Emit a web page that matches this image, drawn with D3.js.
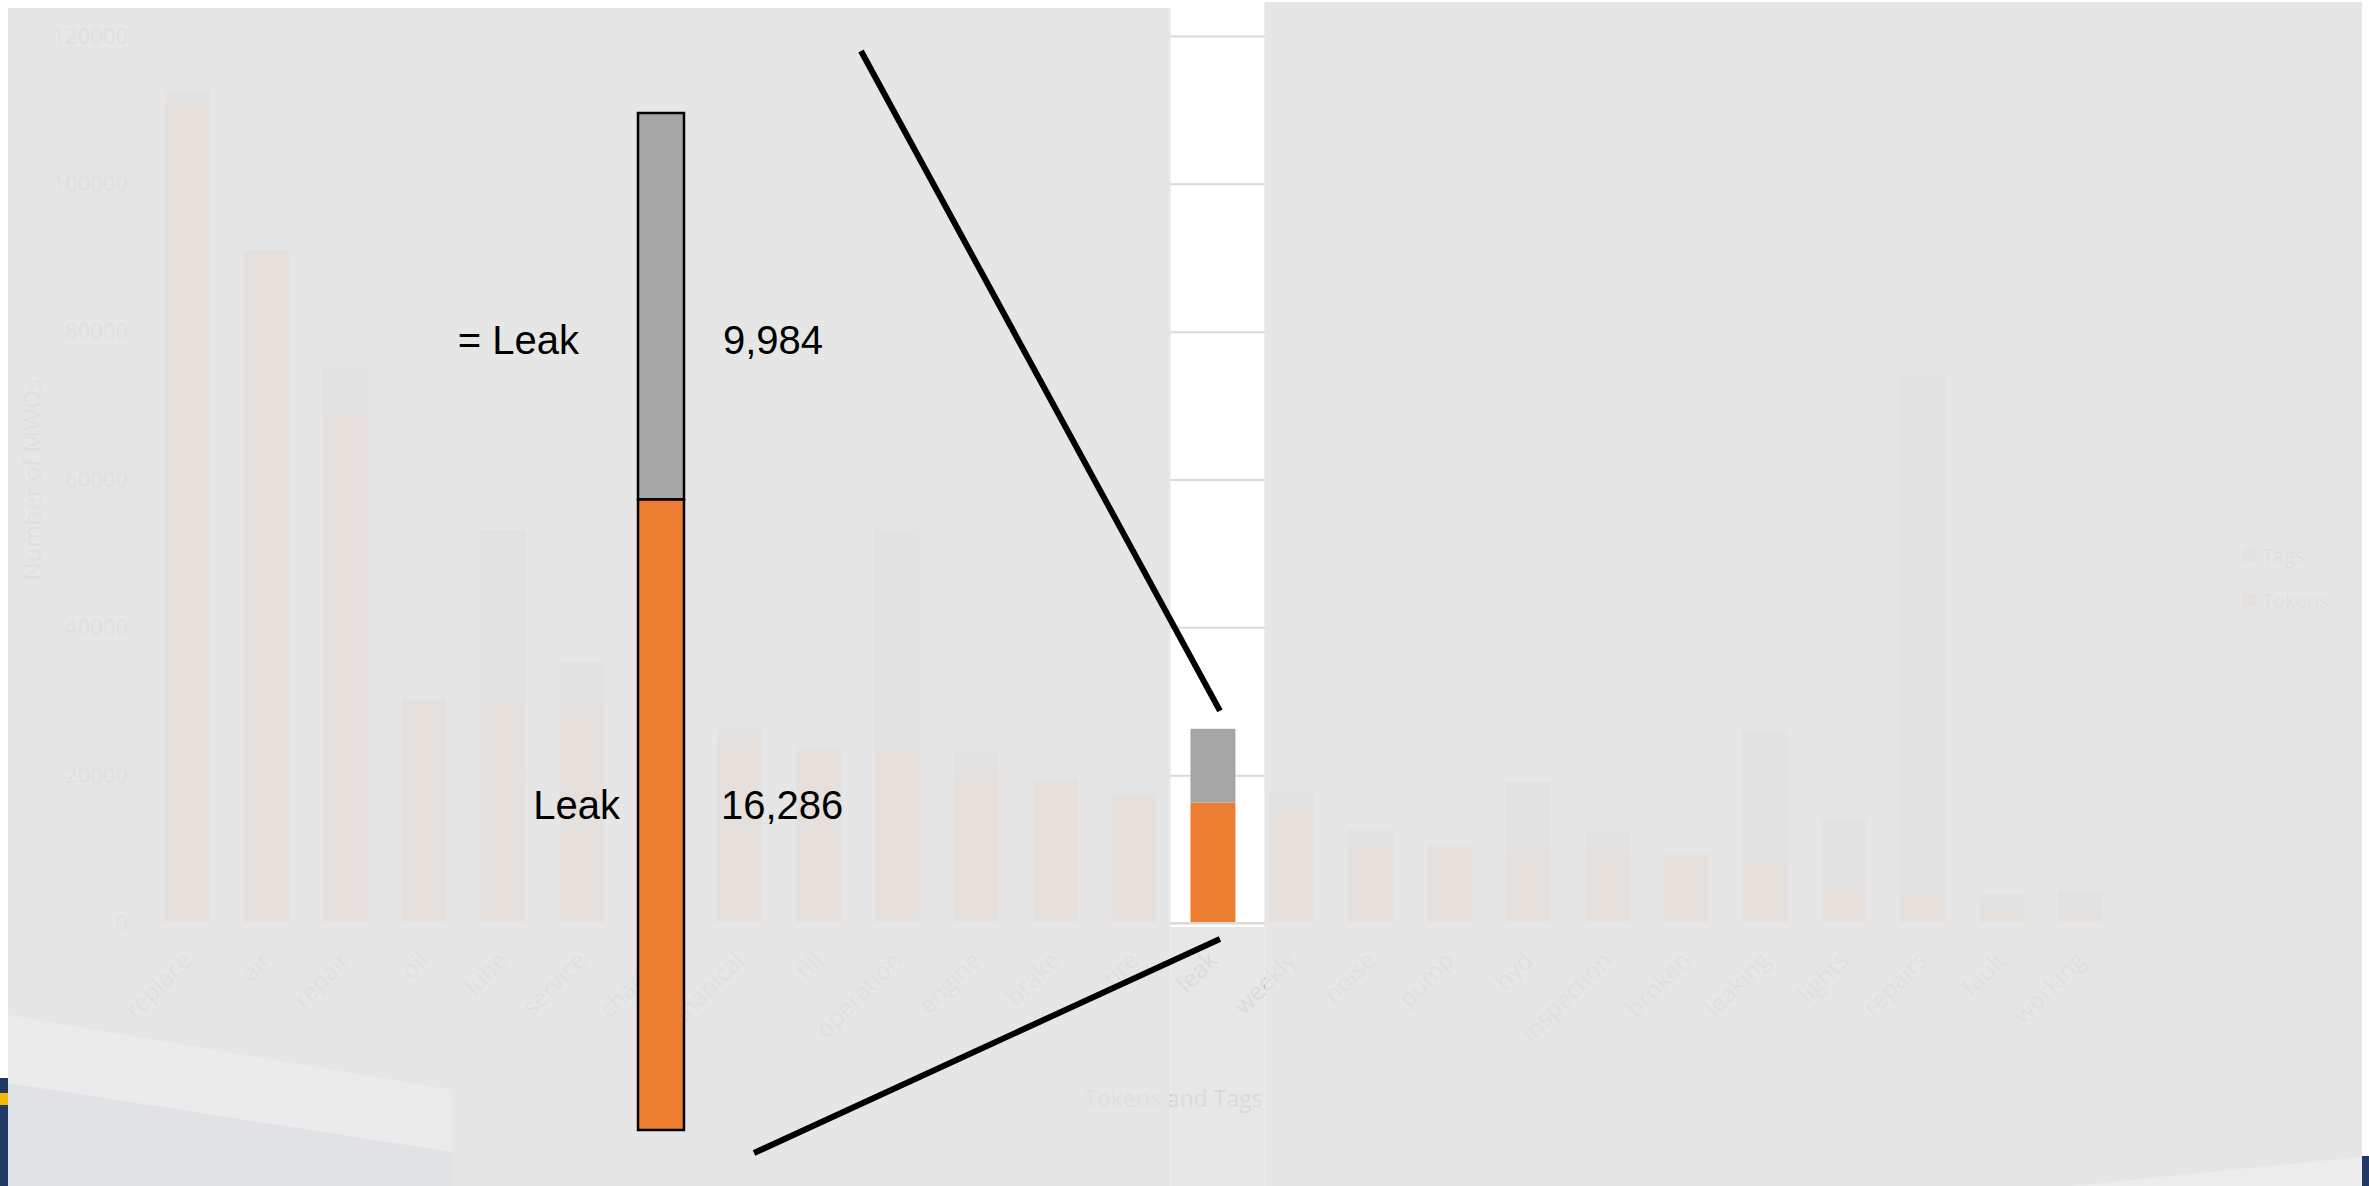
<!DOCTYPE html>
<html>
<head>
<meta charset="utf-8">
<script src="https://cdn.jsdelivr.net/npm/d3@7"></script>
<style>
  body { margin: 0; background: #fff; overflow: hidden; }
</style>
</head>
<body>
<div id="chart"></div>
<script>
// data
const categories = ["replace", "air", "repair", "oil", "lube", "service", "change", "mechanical",
  "fill", "operation", "engine", "brake", "tire", "leak", "weekly", "noise", "pump", "hyd",
  "inspection", "broken", "leaking", "lights", "repairs", "fault", "working", ""];
const tokens = [110900, 90900, 69100, 30200, 29900, 29600, 27000, 25200, 23500, 23700, 20600,
  19000, 17300, 16286, 15500, 10400, 10300, 9750, 9600, 9100, 8100, 4800, 3700, 2100, 1300, 0];
const tags = [1900, 200, 6000, 100, 23300, 5700, 1000, 1200, 500, 29600, 2500,
  600, 300, 9984, 2300, 2300, 300, 9350, 2800, 300, 18100, 9200, 70300, 1800, 3100, 0];
const yTicks = [0, 20000, 40000, 60000, 80000, 100000, 120000];
const seriesNames = ["Tags", "Tokens"];
const focus = "leak";
const focusLabels = ["= Leak", "Leak"];

const W = 2369, H = 1186;
const grey = "#a5a5a5", orange = "#ed7d31";

const svg = d3.select("#chart").append("svg")
  .attr("width", W).attr("height", H);

svg.append("rect").attr("width", W).attr("height", H).attr("fill", "#fff");

const plot = { left: 148, right: 2199, top: 36, bottom: 923 };

var x = d3.scaleBand()
  .domain(categories)
  .range([plot.left, plot.right])
  .paddingInner(0.43)
  .paddingOuter(0.215);

var y = d3.scaleLinear()
  .domain([0, 120000])
  .range([plot.bottom, plot.top]);

const chart = svg.append("g");

// gridlines + y labels
chart.append("g")
  .attr("transform", "translate(" + plot.left + ",0)")
  .call(d3.axisLeft(y).tickValues(yTicks).tickFormat(d3.format("d"))
    .tickSize(-(plot.right - plot.left)).tickPadding(20))
  .call(g => g.select(".domain").remove())
  .call(g => g.selectAll("line").attr("stroke", "#d9d9d9").attr("stroke-width", 2))
  .call(g => g.selectAll("text")
    .attr("fill", "#595959")
    .style("font-family", "'Open Sans', sans-serif")
    .style("font-size", "22px"));

// stacked bars
const rows = categories.map((c, i) => ({ cat: c, Tokens: tokens[i], Tags: tags[i] }));
const stack = d3.stack().keys(["Tokens", "Tags"])(rows);
const colors = { Tokens: orange, Tags: grey };

chart.selectAll("g.series")
  .data(stack)
  .join("g")
  .attr("class", "series")
  .attr("fill", d => colors[d.key])
  .selectAll("rect")
  .data(d => d)
  .join("rect")
  .attr("x", d => x(d.data.cat))
  .attr("width", x.bandwidth())
  .attr("y", d => y(d[1]))
  .attr("height", d => y(d[0]) - y(d[1]));

// x axis
const xAxis = chart.append("g")
  .attr("transform", "translate(0," + plot.bottom + ")")
  .call(d3.axisBottom(x).tickSize(0).tickPadding(0));
xAxis.select(".domain").attr("stroke", "#d9d9d9").attr("stroke-width", 2)
  .attr("d", "M" + plot.left + ",0H" + plot.right);
xAxis.selectAll("text")
  .attr("fill", "#595959")
  .attr("text-anchor", "end")
  .attr("dy", 0)
  .attr("transform", "translate(6,39) rotate(-45)")
  .style("font-family", "'Open Sans', sans-serif")
  .style("font-size", "24px");

// axis titles
chart.append("text")
  .attr("transform", "translate(41," + (plot.top + plot.bottom) / 2 + ") rotate(-90)")
  .attr("text-anchor", "middle")
  .attr("fill", "#595959")
  .style("font-family", "'Open Sans', sans-serif")
  .style("font-size", "24px")
  .text("Number of MWOs");

chart.append("text")
  .attr("x", (plot.left + plot.right) / 2)
  .attr("y", 1107)
  .attr("text-anchor", "middle")
  .attr("fill", "#595959")
  .style("font-family", "'Open Sans', sans-serif")
  .style("font-size", "23px")
  .text("Tokens and Tags");

// legend
const legend = chart.append("g").attr("transform", "translate(2242,548)");
seriesNames.forEach((s, i) => {
  legend.append("rect").attr("x", 0).attr("y", i * 45).attr("width", 14).attr("height", 14)
    .attr("fill", colors[s]);
  legend.append("text").attr("x", 20).attr("y", i * 45 + 15)
    .attr("fill", "#595959")
    .style("font-family", "'Open Sans', sans-serif")
    .style("font-size", "20px")
    .text(s);
});

// fade everything except the focus column
const hx0 = x(focus) - 20, hx1 = x(focus) + x.bandwidth() + 29;
const veil = svg.append("g").attr("fill", "#e5e5e5");
veil.append("rect").attr("x", 8).attr("y", 8).attr("width", hx0 - 8).attr("height", H - 8)
  .attr("opacity", 0.955);
veil.append("rect").attr("x", hx1).attr("y", 2).attr("width", 2362 - hx1).attr("height", H - 2)
  .attr("opacity", 0.955);
veil.append("rect").attr("x", hx0).attr("y", plot.bottom + 4).attr("width", hx1 - hx0)
  .attr("height", H - plot.bottom - 4).attr("opacity", 0.92);

// slide background bits at bottom-left / bottom-right
svg.append("path").attr("d", "M8,1015L452,1090L452,1186L8,1186Z").attr("fill", "#ebebeb");
svg.append("path").attr("d", "M8,1083L452,1152L452,1186L8,1186Z").attr("fill", "#e0e2e5");
svg.append("rect").attr("x", 0).attr("y", 1078).attr("width", 8).attr("height", 108).attr("fill", "#1f3864");
svg.append("rect").attr("x", 0).attr("y", 1093).attr("width", 8).attr("height", 12).attr("fill", "#f5b800");
svg.append("path").attr("d", "M2071,1186L2362,1157L2362,1186Z").attr("fill", "#ececec");
svg.append("rect").attr("x", 2362).attr("y", 1156).attr("width", 7).attr("height", 30).attr("fill", "#1f3864");

// zoomed-in focus bar
const fi = categories.indexOf(focus);
const zy = d3.scaleLinear().domain([0, tokens[fi] + tags[fi]]).range([1130, 113]);
const zoomBar = svg.append("g").attr("stroke", "#000").attr("stroke-width", 2.5);
zoomBar.append("rect").attr("x", 638).attr("width", 46)
  .attr("y", zy(tokens[fi] + tags[fi])).attr("height", zy(tokens[fi]) - zy(tokens[fi] + tags[fi]))
  .attr("fill", grey);
zoomBar.append("rect").attr("x", 638).attr("width", 46)
  .attr("y", zy(tokens[fi])).attr("height", zy(0) - zy(tokens[fi]))
  .attr("fill", orange);

const big = svg.append("g")
  .style("font-family", "'Liberation Sans', Arial, sans-serif")
  .style("font-size", "40px")
  .attr("fill", "#000");
big.append("text").attr("x", 579).attr("y", 354).attr("text-anchor", "end").text(focusLabels[0]);
big.append("text").attr("x", 723).attr("y", 354).text(d3.format(",")(tags[fi]));
big.append("text").attr("x", 620).attr("y", 819).attr("text-anchor", "end").text(focusLabels[1]);
big.append("text").attr("x", 721).attr("y", 819).text(d3.format(",")(tokens[fi]));

// connector lines to the small bar
const fx = x(focus) + x.bandwidth() / 2 + 7;
svg.append("line").attr("x1", 861).attr("y1", 51)
  .attr("x2", fx).attr("y2", y(tokens[fi] + tags[fi]) - 18)
  .attr("stroke", "#000").attr("stroke-width", 6);
svg.append("line").attr("x1", 754).attr("y1", 1153)
  .attr("x2", fx).attr("y2", y(0) + 16)
  .attr("stroke", "#000").attr("stroke-width", 6);
</script>
</body>
</html>
